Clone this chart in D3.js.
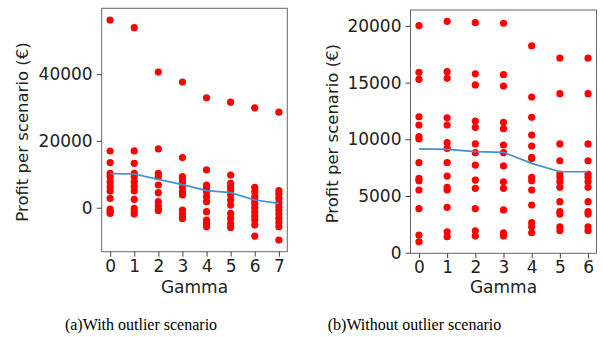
<!DOCTYPE html>
<html>
<head>
<meta charset="utf-8">
<script src="https://cdn.jsdelivr.net/npm/d3@7"></script>
<style>
  body { margin: 0; background: #fff; }
  svg { display: block; }
</style>
</head>
<body>
<svg id="chart" width="603" height="337"></svg>
<script>
// left panel: with outlier scenario
const gammaA = [0, 1, 2, 3, 4, 5, 6, 7];
const profitA = [
  [56200, 16980, 13500, 10300, 9300, 7800, 6300, 5000, 2800, -400, -1000, -1700],
  [53900, 17000, 13300, 10300, 9300, 7800, 6300, 5000, 2500, -200, -1200, -1900],
  [40600, 17600, 10300, 9300, 6800, 4500, 1800, 500, -500, -900],
  [37600, 15000, 9300, 8300, 7300, 6100, 4800, 3800, -700, -1900, -2900, -3200],
  [32900, 11300, 6800, 5800, 4800, 3300, 1800, -1200, -3700, -4700, -5700],
  [31600, 9800, 7300, 6300, 5300, 3800, 2300, 800, -1700, -3200, -4700, -5900],
  [29900, 6100, 4800, 3300, 2300, 1300, 100, -1200, -2500, -3700, -5200, -8500],
  [28600, 5100, 4100, 2800, 1500, 300, -700, -1900, -3200, -4500, -5700, -9700]
];
const meanA = [10180, 10100, 8500, 6900, 5100, 4500, 2300, 1300];
const yTicksA = [0, 20000, 40000];

// right panel: without outlier scenario
const gammaB = [0, 1, 2, 3, 4, 5, 6];
const profitB = [
  [20020, 15910, 15290, 11990, 11260, 10230, 10030, 7940, 6560, 6350, 5530, 3880, 1560, 970],
  [20400, 15960, 15380, 11900, 11260, 9700, 9200, 7940, 6760, 5770, 5530, 4000, 1850, 1410],
  [20280, 15780, 14790, 11610, 11060, 9590, 8820, 7730, 6410, 5680, 3880, 1940, 1470],
  [20230, 15700, 14700, 11500, 10940, 9500, 8820, 7650, 6260, 5680, 3770, 1760, 1470],
  [18250, 13730, 11940, 10380, 9410, 8410, 8300, 6650, 6350, 5530, 4210, 2650, 2290, 1760],
  [17170, 14020, 9590, 8110, 6940, 6650, 6260, 5770, 4500, 3620, 3410, 2290, 1940],
  [17170, 14020, 9590, 8110, 6940, 6650, 6260, 5770, 4500, 3620, 3410, 2290, 1940]
];
const meanB = [9150, 9120, 8910, 8850, 7880, 7140, 7140];
const yTicksB = [0, 5000, 10000, 15000, 20000];

const svg = d3.select('#chart');
const tickFont = 'DejaVu Sans, sans-serif';

function drawPanel(opts) {
  const { gamma, profit, mean, yTicks, xRange, yRange, xDomain, yDomain, yLabelX, caption, captionX } = opts;
  const x = d3.scaleLinear().domain(xDomain).range(xRange);
  const y = d3.scaleLinear().domain(yDomain).range(yRange);
  const g = svg.append('g');

  const pts = [];
  profit.forEach((vals, i) => vals.forEach((v) => pts.push({ g: gamma[i], v })));

  g.append('g')
    .selectAll('circle')
    .data(pts)
    .join('circle')
    .attr('cx', (d) => x(d.g))
    .attr('cy', (d) => y(d.v))
    .attr('r', 3.6)
    .attr('fill', '#ff0000');

  g.append('path')
    .datum(gamma.map((gm, i) => [gm, mean[i]]))
    .attr('fill', 'none')
    .attr('stroke', '#4390d0')
    .attr('stroke-width', 1.7)
    .attr('d', d3.line().x((d) => x(d[0])).y((d) => y(d[1])));

  g.append('rect')
    .attr('x', xRange[0])
    .attr('y', yRange[1])
    .attr('width', xRange[1] - xRange[0])
    .attr('height', yRange[0] - yRange[1])
    .attr('fill', 'none')
    .attr('stroke', '#666')
    .attr('stroke-width', 1);

  const xAxis = g.append('g')
    .attr('transform', `translate(0,${yRange[0]})`)
    .call(d3.axisBottom(x).tickValues(gamma).tickFormat(d3.format('d')).tickSize(5).tickPadding(3));
  const yAxis = g.append('g')
    .attr('transform', `translate(${xRange[0]},0)`)
    .call(d3.axisLeft(y).tickValues(yTicks).tickFormat(d3.format('d')).tickSize(5).tickPadding(4));

  [xAxis, yAxis].forEach((ax) => {
    ax.select('.domain').remove();
    ax.selectAll('line').attr('stroke', '#444');
    ax.selectAll('text').attr('fill', '#222').style('font-family', tickFont).style('font-size', '17px');
  });

  const cx = (xRange[0] + xRange[1]) / 2;
  g.append('text')
    .attr('x', cx)
    .attr('y', 293)
    .attr('text-anchor', 'middle')
    .attr('fill', '#222')
    .style('font-family', tickFont)
    .style('font-size', '17px')
    .text('Gamma');

  g.append('text')
    .attr('transform', `translate(${yLabelX},${(yRange[0] + yRange[1]) / 2 + 2}) rotate(-90)`)
    .attr('text-anchor', 'middle')
    .attr('fill', '#222')
    .style('font-family', tickFont)
    .style('font-size', '16.5px')
    .text('Profit per scenario (€)');

  g.append('text')
    .attr('x', captionX)
    .attr('y', 330)
    .attr('text-anchor', 'middle')
    .attr('fill', '#000')
    .style('font-family', 'Liberation Serif, serif')
    .style('font-size', '16px')
    .text(caption);
}

drawPanel({
  gamma: gammaA, profit: profitA, mean: meanA, yTicks: yTicksA,
  xRange: [101.7, 287.3], yRange: [251.7, 8.3],
  xDomain: [-0.35, 7.35], yDomain: [-13170, 59700],
  yLabelX: 28, caption: '(a)With outlier scenario', captionX: 141
});

drawPanel({
  gamma: gammaB, profit: profitB, mean: meanB, yTicks: yTicksB,
  xRange: [410.5, 596.5], yRange: [253.3, 10],
  xDomain: [-0.3, 6.3], yDomain: [-50, 21400],
  yLabelX: 338, caption: '(b)Without outlier scenario', captionX: 414.5
});
</script>
</body>
</html>
